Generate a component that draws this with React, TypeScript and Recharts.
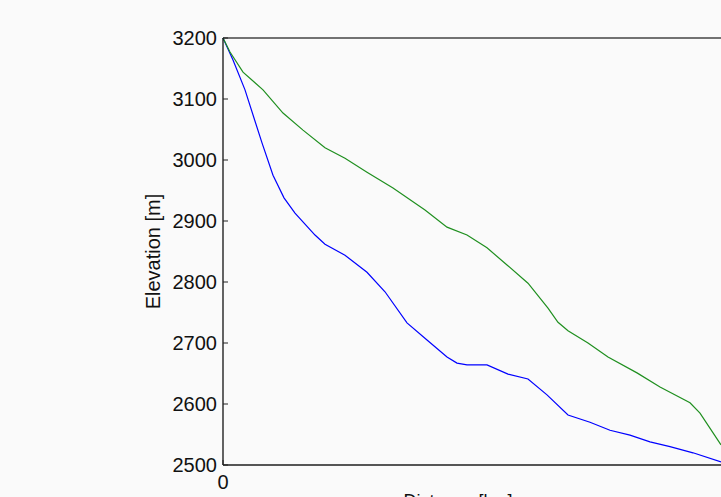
import React from "react";
import { LineChart, Line, XAxis, YAxis, ReferenceLine, Label } from "recharts";

// Profile distances in km and elevations in m, two profiles
const distBlue = [
  0, 0.25, 0.55, 0.975, 1.25, 1.525, 1.8, 2.3, 2.55, 3.05, 3.6, 4.05, 4.6, 5.1,
  5.6, 5.85, 6.1, 6.6, 7.125, 7.625, 8.1, 8.625, 9.175, 9.675, 10.175, 10.675,
  11.175, 11.75, 12.45,
];
const elevBlue = [
  3200, 3164, 3115, 3028, 2975, 2938, 2913, 2877, 2862, 2844, 2816, 2784, 2733,
  2705, 2677, 2667, 2664, 2664, 2649, 2641, 2615, 2582, 2570, 2557, 2549, 2538,
  2530, 2520, 2505,
];
const distGreen = [
  0, 0.175, 0.5, 1.0, 1.5, 2.0, 2.55, 3.05, 3.6, 4.25, 5.05, 5.6, 6.1, 6.6, 7.1,
  7.625, 8.125, 8.375, 8.625, 9.125, 9.625, 10.35, 10.925, 11.675, 11.925, 12.45,
];
const elevGreen = [
  3200, 3177, 3144, 3115, 3077, 3049, 3020, 3003, 2980, 2954, 2918, 2890, 2877,
  2856, 2828, 2798, 2757, 2734, 2720, 2700, 2677, 2651, 2628, 2602, 2585, 2533,
];
const elevTicks = [2500, 2600, 2700, 2800, 2900, 3000, 3100, 3200];
const distTicks = [0];

const toSeries = (dist: number[], elev: number[]) =>
  dist.map((d, i) => ({ dist: d, elev: elev[i] }));

const blueData = toSeries(distBlue, elevBlue);
const greenData = toSeries(distGreen, elevGreen);

const FONT = "'Liberation Sans', Arial, Helvetica, sans-serif";

// ticks point into the plot box
const ElevTick = ({ x, y, payload }: any) => (
  <g>
    <line x1={x} x2={x + 5} y1={y} y2={y} stroke="#222" strokeWidth={1} />
    <text
      x={x - 6}
      y={y}
      textAnchor="end"
      dominantBaseline="central"
      fontSize={20}
      fontFamily={FONT}
      fill="#111"
    >
      {payload.value}
    </text>
  </g>
);

const DistTick = ({ x, y, payload }: any) => (
  <g>
    <line x1={x} x2={x} y1={y} y2={y - 5} stroke="#222" strokeWidth={1} />
    <text
      x={x}
      y={y + 17}
      textAnchor="middle"
      dominantBaseline="central"
      fontSize={20}
      fontFamily={FONT}
      fill="#111"
    >
      {payload.value}
    </text>
  </g>
);

export default function App() {
  return (
    <div
      style={{
        position: "fixed",
        left: 0,
        top: 0,
        width: 721,
        height: 497,
        overflow: "hidden",
        background: "#fafafa",
      }}
    >
      <LineChart
        width={833}
        height={540}
        margin={{ top: 38, right: 10, left: 163, bottom: 25 }}
      >
        <XAxis
          type="number"
          dataKey="dist"
          domain={[0, 15]}
          ticks={distTicks}
          height={50}
          tickSize={0}
          tickMargin={0}
          tickLine={false}
          tick={<DistTick />}
          axisLine={{ stroke: "#555", strokeWidth: 2 }}
        >
          <Label
            value="Distance [km]"
            position="center"
            dx={-65}
            dy={11}
            fontSize={18}
            fontFamily={FONT}
            fill="#111"
          />
        </XAxis>
        <YAxis
          type="number"
          domain={[2500, 3200]}
          ticks={elevTicks}
          width={60}
          tickSize={0}
          tickMargin={0}
          tickLine={false}
          tick={<ElevTick />}
          axisLine={{ stroke: "#111", strokeWidth: 1.3 }}
        >
          <Label
            value="Elevation [m]"
            angle={-90}
            position="center"
            dx={-40}
            fontSize={20}
            fontFamily={FONT}
            fill="#111"
          />
        </YAxis>
        <ReferenceLine y={3200} stroke="#444" strokeWidth={1.5} />
        <Line
          data={blueData}
          dataKey="elev"
          type="linear"
          stroke="#0000ff"
          strokeWidth={1.2}
          dot={false}
          isAnimationActive={false}
        />
        <Line
          data={greenData}
          dataKey="elev"
          type="linear"
          stroke="#1f8f1f"
          strokeWidth={1.2}
          dot={false}
          isAnimationActive={false}
        />
      </LineChart>
    </div>
  );
}
